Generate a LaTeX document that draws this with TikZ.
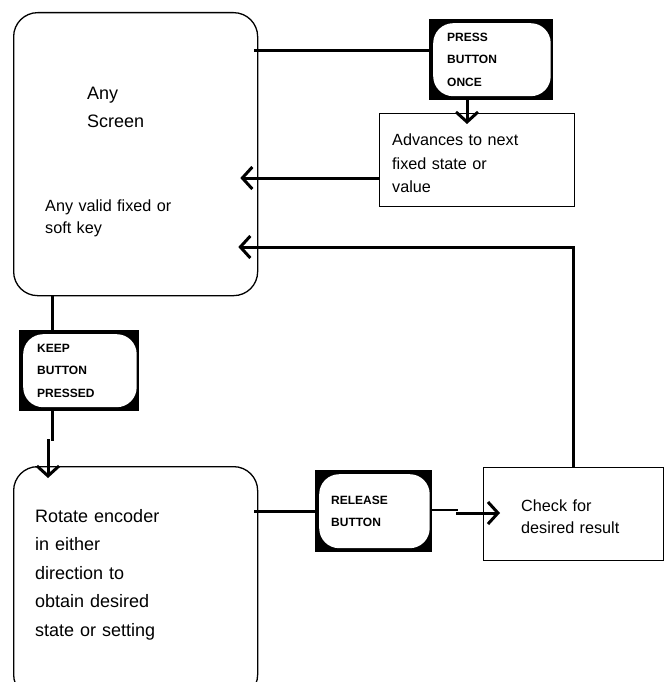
\documentclass[tikz,border=0pt]{standalone}
\usepackage{fontspec}
\setmainfont{Liberation Sans}
\usetikzlibrary{arrows.meta,positioning}

\tikzset{
  pane/.style={draw, line width=1.3pt, rounded corners=24pt, anchor=north west, inner sep=0pt},
  note/.style={draw, line width=1.3pt, anchor=north west, inner sep=0pt},
  knob/.style={fill=black, anchor=north west, inner ysep=0pt, inner xsep=17pt, align=left,
    font=\bfseries\fontsize{12}{22.5}\selectfont,
    path picture={\fill[white, rounded corners=20pt]
      ([shift={(4pt,4pt)}]path picture bounding box.south west) rectangle
      ([shift={(-2.5pt,-4pt)}]path picture bounding box.north east);}},
  words/.style={anchor=base west, inner sep=0pt, text width=220pt, align=left},
  wire/.style={line width=3pt},
  feed/.style={line width=3pt, -{Straight Barb[length=10pt,width=22pt]}},
}

\begin{document}
\begin{tikzpicture}[x=1pt,y=-1pt]
    \clip (0,0) rectangle (666,682);
    %% boxes
    \node[pane, minimum width=244pt, minimum height=283pt] (screen) at (13,12) {};
    \node[pane, minimum width=244pt, minimum height=232pt] (rotate) at (13,466) {};
    \node[note, minimum width=195pt, minimum height=93pt] (advance) at (379,113) {};
    \node[note, minimum width=180pt, minimum height=93pt] (check) at (483,467) {};
    %% buttons
    \node[knob, text width=88pt, minimum height=81pt, inner xsep=18pt] (press) at (429,19) {PRESS\\BUTTON\\ONCE};
    \node[knob, text width=84pt, minimum height=81pt, inner xsep=18pt] (keep) at (19,330) {KEEP\\BUTTON\\PRESSED};
    \node[knob, text width=85pt, minimum height=82pt, inner xsep=16pt] (release) at (315,470) {RELEASE\\BUTTON};
    %% texts
    \node[words, font=\fontsize{18}{28}\selectfont] (screenname) at (87,100) {Any\\Screen};
    \node[words, font=\fontsize{16.2}{22}\selectfont] (screenkeys) at (45,211) {Any valid fixed or\\soft key};
    \node[words, font=\fontsize{16.2}{23.5}\selectfont] (advancetext) at (392,146) {Advances to next\\fixed state or\\value};
    \node[words, font=\fontsize{16.2}{22}\selectfont] (checktext) at (521,511) {Check for\\desired result};
    \node[words, font=\fontsize{18}{28.5}\selectfont] (rotatetext) at (35,522)
      {Rotate encoder\\in either\\direction to\\obtain desired\\state or setting};
    %% connectors
    \coordinate (bend) at (48,439);
    \draw[wire] ([shift={(-4,39)}]screen.north east) -- ([shift={(0,32)}]press.north west);
    \draw[feed] ([xshift=38pt]press.south west) -- ([shift={(88,11)}]advance.north west);
    \draw[feed] ([shift={(0,65)}]advance.north west) -- ([shift={(-18,166)}]screen.north east);
    \draw[feed] ([xshift=90pt]check.north west) |- ([shift={(-20,235)}]screen.north east);
    \draw[wire] ([xshift=39pt]screen.south west) -- ([xshift=33pt]keep.north west);
    \draw[wire] ([xshift=33pt]keep.south west) -- ([xshift=4pt,yshift=-2pt]bend);
    \draw[feed] (bend) -- ([shift={(35,12)}]rotate.north west);
    \draw[wire] ([shift={(-4,45)}]rotate.north east) -- ([shift={(0,41)}]release.north west);
    \draw[line width=2pt] ([shift={(0,40)}]release.north east) -- ([shift={(-25,43)}]check.north west);
    \draw[feed] ([shift={(-27,46)}]check.north west) -- ([shift={(17,46)}]check.north west);
\end{tikzpicture}
\end{document}
